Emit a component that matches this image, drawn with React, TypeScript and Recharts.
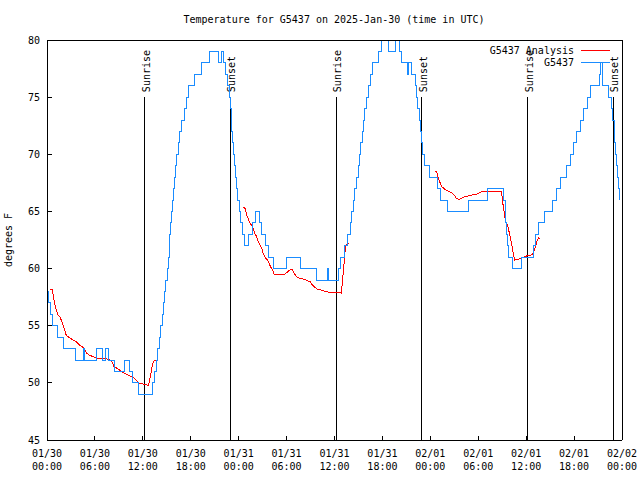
import { LineChart, Line, XAxis, YAxis, ReferenceLine } from "recharts";

const FONT = "'DejaVu Sans Mono', monospace";
const RED = "#ff0000";
const BLUE = "#1a8cff";

// x is hours since 2025-01-30 00:00 UTC
const xTicks = [0, 6, 12, 18, 24, 30, 36, 42, 48, 54, 60, 66, 72];
const xMinorTicks = [2, 4, 8, 10, 14, 16, 20, 22, 26, 28, 32, 34, 38, 40, 44, 46, 50, 52, 56, 58, 62, 64, 68, 70];
const tickDates = ["01/30", "01/30", "01/30", "01/30", "01/31", "01/31", "01/31", "01/31", "02/01", "02/01", "02/01", "02/01", "02/02"];
const tickTimes = ["00:00", "06:00", "12:00", "18:00", "00:00", "06:00", "12:00", "18:00", "00:00", "06:00", "12:00", "18:00", "00:00"];
const yTicks = [45, 50, 55, 60, 65, 70, 75, 80];

const sunHours = [12.25, 22.95, 36.2, 46.93, 60.2, 70.93];
const sunNames = ["Sunrise", "Sunset", "Sunrise", "Sunset", "Sunrise", "Sunset"];

// G5437 observations, [hour, °F], held until the next entry
const obsSteps: [number, number][] = [
  [0, 58], [0.15, 57], [0.4, 56], [0.7, 55], [1.35, 54], [2.1, 53], [3.55, 52], [4.6, 53], [4.75, 52],
  [6.2, 53], [6.9, 52], [7.3, 53], [7.65, 52], [8.4, 51], [9.7, 52], [10.35, 51], [10.75, 50], [11.5, 49],
  [13.15, 50], [13.45, 51], [13.7, 52], [13.85, 53], [14.05, 54], [14.25, 55], [14.4, 56], [14.55, 57],
  [14.7, 58], [14.9, 59], [15.05, 60], [15.2, 61], [15.3, 62], [15.4, 63], [15.5, 64], [15.6, 65],
  [15.75, 66], [15.85, 67], [16.0, 68], [16.1, 69], [16.25, 70], [16.45, 71], [16.65, 72], [16.85, 73],
  [17.25, 74], [17.5, 75], [17.75, 76], [18.5, 77], [19.35, 78], [20.4, 79], [21.45, 78], [21.85, 79],
  [22.1, 78], [22.35, 77], [22.6, 76], [22.85, 75], [22.95, 74], [23.05, 73], [23.15, 72], [23.25, 71],
  [23.35, 70], [23.45, 69], [23.55, 68], [23.7, 67], [23.9, 66], [24.05, 65], [24.2, 64], [24.45, 63],
  [24.7, 62], [25.2, 63], [25.7, 64], [26.05, 65], [26.6, 64], [26.9, 63], [27.35, 62], [27.7, 61],
  [28.3, 60], [29.95, 61], [31.75, 60], [33.8, 59], [35.1, 60], [35.2, 59], [36.55, 60], [36.8, 61],
  [37.2, 62], [37.6, 63], [37.95, 64], [38.15, 65], [38.35, 66], [38.55, 67], [38.75, 68], [38.95, 69],
  [39.1, 70], [39.3, 71], [39.5, 72], [39.65, 73], [39.8, 74], [40.0, 75], [40.2, 76], [40.45, 77],
  [40.8, 78], [41.5, 79], [41.9, 80], [42.7, 79], [43.6, 80], [44.1, 79], [44.35, 78], [45.12, 77],
  [45.3, 78], [45.6, 77], [46.1, 76], [46.3, 75], [46.45, 74], [46.6, 73],
  [46.75, 72], [46.95, 71], [47.05, 70], [47.3, 69], [47.95, 68], [48.9, 67], [49.3, 66], [50.15, 65],
  [52.75, 66], [55.1, 67], [57.2, 66], [57.35, 65], [57.45, 64], [57.55, 63], [57.65, 62], [57.75, 61],
  [58.3, 60], [59.4, 61], [60.9, 62], [61.2, 63], [61.6, 64], [62.3, 65], [63.25, 66], [63.8, 67],
  [64.25, 68], [65.0, 69], [65.5, 70], [65.9, 71], [66.25, 72], [66.8, 73], [67.15, 74], [67.7, 75],
  [68.1, 76], [69.15, 77], [69.35, 78], [69.5, 77], [69.6, 76], [70.3, 75], [70.7, 74], [70.85, 73],
  [71.0, 72], [71.05, 71], [71.15, 70], [71.3, 69], [71.45, 68], [71.55, 67], [71.65, 66],
];

// G5437 analysis, [hour, °F]; null breaks the line between nights
const analysis: [number, number | null][] = [
  [0.4, 58.2], [0.65, 58.2], [0.75, 57.8], [0.88, 57.25], [1.0, 56.8], [1.17, 56.4], [1.38, 55.9],
  [1.59, 55.8], [1.79, 55.5], [2.0, 55.05], [2.22, 54.6], [2.35, 54.25], [2.51, 54.1], [2.85, 53.95],
  [3.26, 53.75], [3.68, 53.6], [4.1, 53.3], [4.52, 53.1], [4.73, 52.9], [4.93, 52.6], [5.36, 52.4],
  [5.77, 52.3], [6.18, 52.15], [7.24, 52.15], [7.65, 52.05], [8.07, 51.95], [8.4, 51.4], [8.69, 51.3],
  [9.12, 51.1], [9.45, 50.9], [9.87, 50.8], [10.37, 50.6], [10.79, 50.5], [11.2, 50.2], [11.54, 49.95],
  [12.04, 49.9], [12.54, 49.8], [12.71, 49.8], [12.92, 50.5], [13.13, 51.3], [13.33, 51.9], [13.63, 52.0],
  [18, null],
  [24.5, 65.35], [24.75, 65.35], [24.87, 65.1], [25.0, 64.7], [25.18, 64.4], [25.43, 63.95], [25.63, 63.8],
  [25.84, 63.5], [26.0, 63.1], [26.25, 62.8], [26.47, 62.35], [26.68, 62.05], [26.88, 61.8], [27.09, 61.3],
  [27.38, 60.9], [27.6, 60.75], [27.81, 60.45], [28.01, 60.15], [28.22, 59.9], [28.44, 59.5], [29.77, 59.5],
  [30.1, 59.7], [30.44, 59.9], [30.73, 59.9], [30.95, 59.6], [31.15, 59.4], [31.36, 59.2], [31.77, 59.15],
  [32.4, 59.0], [32.95, 58.85], [33.24, 58.55], [33.53, 58.35], [33.87, 58.2], [34.41, 58.1], [35.12, 57.95],
  [36.16, 57.9], [36.59, 57.9], [36.84, 57.85], [36.97, 58.7], [37.13, 59.9], [37.26, 61.0], [37.38, 61.9],
  [37.67, 62.2], [37.79, 62.15],
  [43, null],
  [48.54, 68.5], [48.76, 68.5], [48.96, 68.05], [49.17, 67.6], [49.39, 67.2], [49.8, 66.95], [50.21, 66.8],
  [50.64, 66.65], [50.97, 66.45], [51.27, 66.15], [51.56, 66.05], [51.89, 66.15], [52.31, 66.3],
  [52.72, 66.35], [53.35, 66.45], [53.78, 66.5], [54.19, 66.65], [54.6, 66.75], [56.91, 66.75],
  [56.99, 66.3], [57.11, 65.55], [57.24, 65.0], [57.41, 64.1], [57.66, 63.8], [57.87, 63.2], [58.08, 62.5],
  [58.24, 61.9], [58.42, 61.2], [58.58, 60.75], [58.99, 60.8], [59.42, 60.9], [59.83, 61.05],
  [60.25, 61.15], [60.68, 61.2], [60.88, 61.35], [61.18, 61.95], [61.38, 62.5], [61.59, 62.7], [61.72, 62.6],
];

const obsData = obsSteps.map(([h, t]) => ({ h, t }));
const anaData = analysis.map(([h, t]) => ({ h, t }));

function TimeTick(props: any) {
  const { x, y, payload } = props;
  const i = xTicks.indexOf(payload.value);
  return (
    <text x={x} y={y} textAnchor="middle" fontFamily={FONT} fontSize={10} fill="#000">
      <tspan x={x} dy={8}>{tickDates[i]}</tspan>
      <tspan x={x} dy={13}>{tickTimes[i]}</tspan>
    </text>
  );
}

const NoTick = () => <g />;

function sunLabel(name: string) {
  return (props: any) => {
    const vb = props.viewBox || {};
    const x = vb.x ?? 0;
    const y = (vb.y ?? 0) - 5;
    return (
      <text x={x} y={y} dy={5} transform={`rotate(-90 ${x} ${y})`} fontFamily={FONT} fontSize={10} fill="#000">
        {name}
      </text>
    );
  };
}

export default function App() {
  return (
    <div style={{ position: "absolute", left: 0, top: 0, width: 640, height: 480, background: "#fff" }}>
      <style>{`.recharts-surface path, .recharts-surface line { shape-rendering: crispEdges; }`}</style>
      <LineChart width={640} height={480} margin={{ top: 30, right: 8, bottom: 10, left: 7 }}>
        <XAxis
          xAxisId="x"
          dataKey="h"
          type="number"
          domain={[0, 72]}
          allowDataOverflow
          ticks={xTicks}
          interval={0}
          height={30}
          tickSize={-4}
          tickMargin={13}
          tick={<TimeTick />}
          stroke="#000"
        />
        <XAxis
          xAxisId="xminor"
          type="number"
          domain={[0, 72]}
          ticks={xMinorTicks}
          interval={0}
          mirror
          height={10}
          tickSize={2}
          axisLine={false}
          tick={<NoTick />}
          stroke="#000"
        />
        <XAxis
          xAxisId="top"
          orientation="top"
          type="number"
          domain={[0, 72]}
          ticks={xTicks}
          interval={0}
          height={10}
          tickSize={-4}
          tick={<NoTick />}
          stroke="#000"
        />
        <XAxis
          xAxisId="topminor"
          orientation="top"
          type="number"
          domain={[0, 72]}
          ticks={xMinorTicks}
          interval={0}
          mirror
          height={10}
          tickSize={2}
          axisLine={false}
          tick={<NoTick />}
          stroke="#000"
        />
        <YAxis
          yAxisId="y"
          type="number"
          domain={[45, 80]}
          allowDataOverflow
          ticks={yTicks}
          interval={0}
          width={40}
          tickSize={-5}
          tickMargin={12}
          tick={{ fontFamily: FONT, fontSize: 10, fill: "#000" }}
          stroke="#000"
        />
        <YAxis
          yAxisId="right"
          orientation="right"
          type="number"
          domain={[45, 80]}
          ticks={yTicks}
          interval={0}
          width={10}
          tickSize={-5}
          tick={<NoTick />}
          stroke="#000"
        />
        {sunHours.map((h, i) => (
          <ReferenceLine
            key={i}
            xAxisId="x"
            yAxisId="y"
            segment={[{ x: h, y: 45 }, { x: h, y: 75 }]}
            stroke="#000"
            strokeWidth={1}
            ifOverflow="visible"
            label={sunLabel(sunNames[i])}
          />
        ))}
        <Line
          data={anaData}
          xAxisId="x"
          yAxisId="y"
          dataKey="t"
          type="linear"
          stroke={RED}
          strokeWidth={1}
          dot={false}
          isAnimationActive={false}
        />
        <Line
          data={obsData}
          xAxisId="x"
          yAxisId="y"
          dataKey="t"
          type="stepAfter"
          stroke={BLUE}
          strokeWidth={1}
          dot={false}
          isAnimationActive={false}
        />
      </LineChart>
      <svg width={640} height={480} style={{ position: "absolute", left: 0, top: 0, pointerEvents: "none" }}>
        <g fontFamily={FONT} fontSize={10} fill="#000">
          <text x={334} y={23} textAnchor="middle">Temperature for G5437 on 2025-Jan-30 (time in UTC)</text>
          <text x={12} y={240} textAnchor="middle" transform="rotate(-90 12 240)">degrees F</text>
          <text x={574} y={53.5} textAnchor="end">G5437 Analysis</text>
          <text x={574} y={66} textAnchor="end">G5437</text>
        </g>
        <line x1={581} x2={610} y1={50.5} y2={50.5} stroke={RED} />
        <line x1={581} x2={610} y1={62.5} y2={62.5} stroke={BLUE} />
      </svg>
    </div>
  );
}
